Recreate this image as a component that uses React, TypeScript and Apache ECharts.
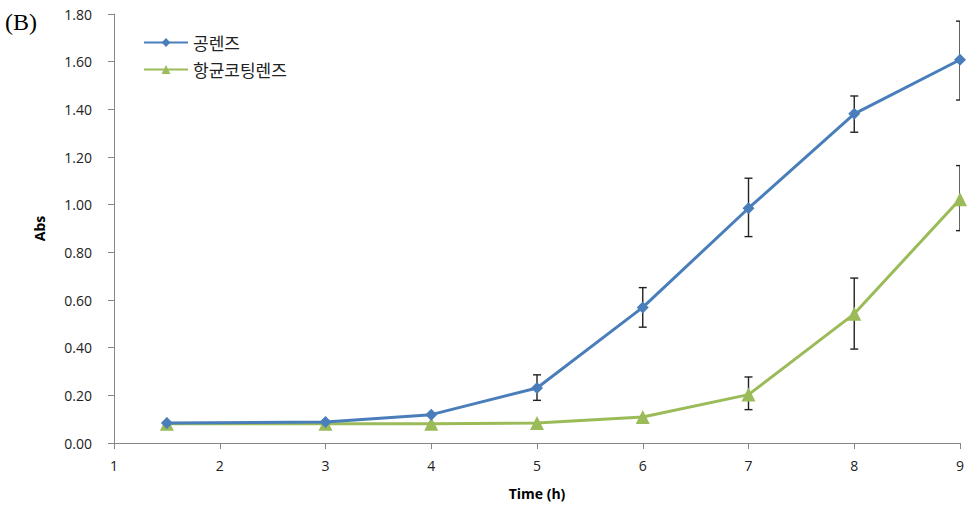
import React, { useEffect, useRef } from "react";
import * as echarts from "echarts";

const timePoints = [1.5, 3, 4, 5, 6, 7, 8, 9];
const seriesNames = ["공렌즈", "항균코팅렌즈"];
const plainLens = [0.084, 0.088, 0.119, 0.231, 0.569, 0.985, 1.381, 1.608];
const coatedLens = [0.081, 0.081, 0.081, 0.084, 0.109, 0.203, 0.542, 1.023];
// error bars: [time, low, high]
const plainErrTime = [5, 6, 7, 8, 9];
const plainErrLow = [0.179, 0.486, 0.866, 1.304, 1.439];
const plainErrHigh = [0.286, 0.652, 1.111, 1.456, 1.77];
const coatedErrTime = [7, 8, 9];
const coatedErrLow = [0.14, 0.394, 0.891];
const coatedErrHigh = [0.277, 0.692, 1.164];

const blue = "#4a7ebb";
const green = "#9bbb59";

function errRender(params: any, api: any) {
  const x = api.value(0);
  const lo = api.coord([x, api.value(1)]);
  const hi = api.coord([x, api.value(2)]);
  const hw = 4;
  const style = { stroke: "#222", lineWidth: 1.4 };
  return {
    type: "group",
    children: [
      { type: "line", shape: { x1: hi[0], y1: hi[1], x2: lo[0], y2: lo[1] }, style },
      { type: "line", shape: { x1: hi[0] - hw, y1: hi[1], x2: hi[0] + hw, y2: hi[1] }, style },
      { type: "line", shape: { x1: lo[0] - hw, y1: lo[1], x2: lo[0] + hw, y2: lo[1] }, style },
    ],
  };
}

export default function App() {
  const ref = useRef<HTMLDivElement>(null);
  useEffect(() => {
    document.body.style.margin = "0";
    const chart = echarts.init(ref.current!, null, { renderer: "svg" });
    const font = "'Open Sans', 'Noto Sans', sans-serif";
    chart.setOption({
      animation: false,
      backgroundColor: "#fff",
      grid: { left: 114, right: 9, top: 14, bottom: 66, containLabel: false },
      graphic: [
        {
          type: "text",
          left: 5,
          top: 10,
          style: { text: "(B)", font: "24px 'Liberation Serif', serif", fill: "#000" },
        },
      ],
      legend: {
        left: 138,
        top: 29,
        orient: "vertical",
        itemGap: 10,
        itemWidth: 44,
        itemHeight: 11,
        data: seriesNames,
        textStyle: { fontSize: 17, fontFamily: "'Noto Sans CJK KR', sans-serif", color: "#222" },
      },
      xAxis: {
        type: "value",
        min: 1,
        max: 9,
        interval: 1,
        name: "Time (h)",
        nameLocation: "middle",
        nameGap: 43,
        nameTextStyle: { fontWeight: "bold", fontSize: 14, fontFamily: font, color: "#000" },
        axisLine: { lineStyle: { color: "#868686", width: 1 } },
        axisTick: { show: true, length: 6, lineStyle: { color: "#868686" } },
        axisLabel: { fontSize: 14, fontFamily: font, color: "#222", margin: 15 },
        splitLine: { show: false },
      },
      yAxis: {
        type: "value",
        min: 0,
        max: 1.8,
        interval: 0.2,
        name: "Abs",
        nameLocation: "middle",
        nameGap: 68,
        nameRotate: 90,
        nameTextStyle: { fontWeight: "bold", fontSize: 14, fontFamily: font, color: "#000" },
        axisLine: { show: true, lineStyle: { color: "#868686", width: 1 } },
        axisTick: { show: true, length: 6, lineStyle: { color: "#868686" } },
        axisLabel: {
          fontSize: 14,
          fontFamily: font,
          color: "#222",
          margin: 22,
          formatter: (v: number) => v.toFixed(2),
        },
        splitLine: { show: false },
      },
      series: [
        {
          type: "custom",
          name: "err1",
          renderItem: errRender,
          clip: true,
          z: 1,
          data: plainErrTime.map((t, i) => [t, plainErrLow[i], plainErrHigh[i]]),
          encode: { x: 0, y: [1, 2] },
        },
        {
          type: "custom",
          name: "err2",
          renderItem: errRender,
          clip: true,
          z: 1,
          data: coatedErrTime.map((t, i) => [t, coatedErrLow[i], coatedErrHigh[i]]),
          encode: { x: 0, y: [1, 2] },
        },
        {
          type: "line",
          name: seriesNames[0],
          z: 3,
          data: timePoints.map((t, i) => [t, plainLens[i]]),
          symbol: "diamond",
          symbolSize: 12,
          lineStyle: { color: blue, width: 3 },
          itemStyle: { color: blue },
        },
        {
          type: "line",
          name: seriesNames[1],
          z: 2,
          data: timePoints.map((t, i) => [t, coatedLens[i]]),
          symbol: "triangle",
          symbolSize: 14,
          lineStyle: { color: green, width: 3 },
          itemStyle: { color: green },
        },
      ],
    });
    return () => chart.dispose();
  }, []);
  return <div ref={ref} style={{ width: 969, height: 509, position: "absolute", left: 0, top: 0 }} />;
}
